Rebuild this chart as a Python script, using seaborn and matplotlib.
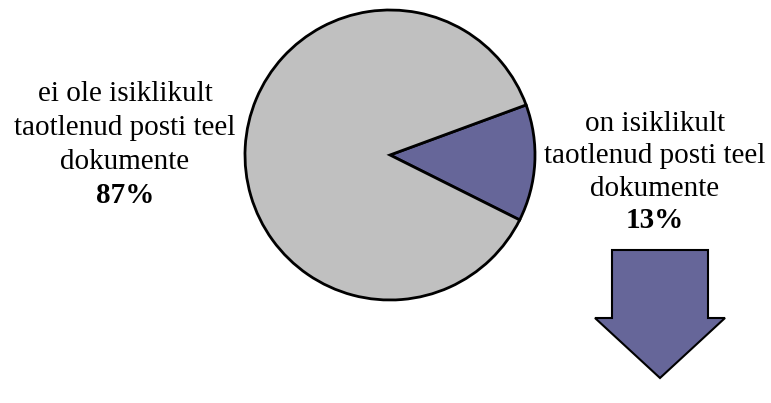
import matplotlib
matplotlib.use("Agg")
import matplotlib.pyplot as plt
from matplotlib.patches import Polygon
import seaborn as sns

# Survey answer shares
categories = [["on isiklikult", "taotlenud posti teel", "dokumente"],
              ["ei ole isiklikult", "taotlenud posti teel", "dokumente"]]
shares = [13, 87]
share_labels = ["13%", "87%"]
colors = ["#666699", "#C0C0C0"]

sns.set_theme(style="white")
plt.rcParams["font.family"] = ["Liberation Serif", "DejaVu Serif"]
plt.rcParams["text.color"] = "black"

W, H = 771, 403
fig = plt.figure(figsize=(W / 100, H / 100), dpi=100)
ax = fig.add_axes([0, 0, 1, 1])

ax.pie(shares, colors=colors, startangle=-26.6, counterclock=True,
       center=(390, H - 155), radius=145,
       wedgeprops=dict(edgecolor="black", linewidth=2))
ax.set_xlim(0, W)
ax.set_ylim(0, H)
ax.set_aspect("equal")
ax.axis("off")

fs = 21


def label_block(x, first_baseline, step, lines, pct):
    for i, line in enumerate(lines):
        ax.text(x, H - (first_baseline + i * step), line,
                ha="center", va="baseline", fontsize=fs)
    ax.text(x, H - (first_baseline + len(lines) * step), pct,
            ha="center", va="baseline", fontsize=fs, fontweight="bold")


# right-hand label (small slice) and left-hand label (large slice)
label_block(655, 131, 32.3, categories[0], share_labels[0])
label_block(125, 101, 34, categories[1], share_labels[1])

# downward block arrow under the small slice
arrow = [(612, 250), (708, 250), (708, 318), (725, 318), (660, 378),
         (595, 318), (612, 318)]
ax.add_patch(Polygon([(x, H - y) for x, y in arrow], closed=True,
                     facecolor=colors[0], edgecolor="black", linewidth=1.5))

fig.savefig("out.png", dpi=100)
